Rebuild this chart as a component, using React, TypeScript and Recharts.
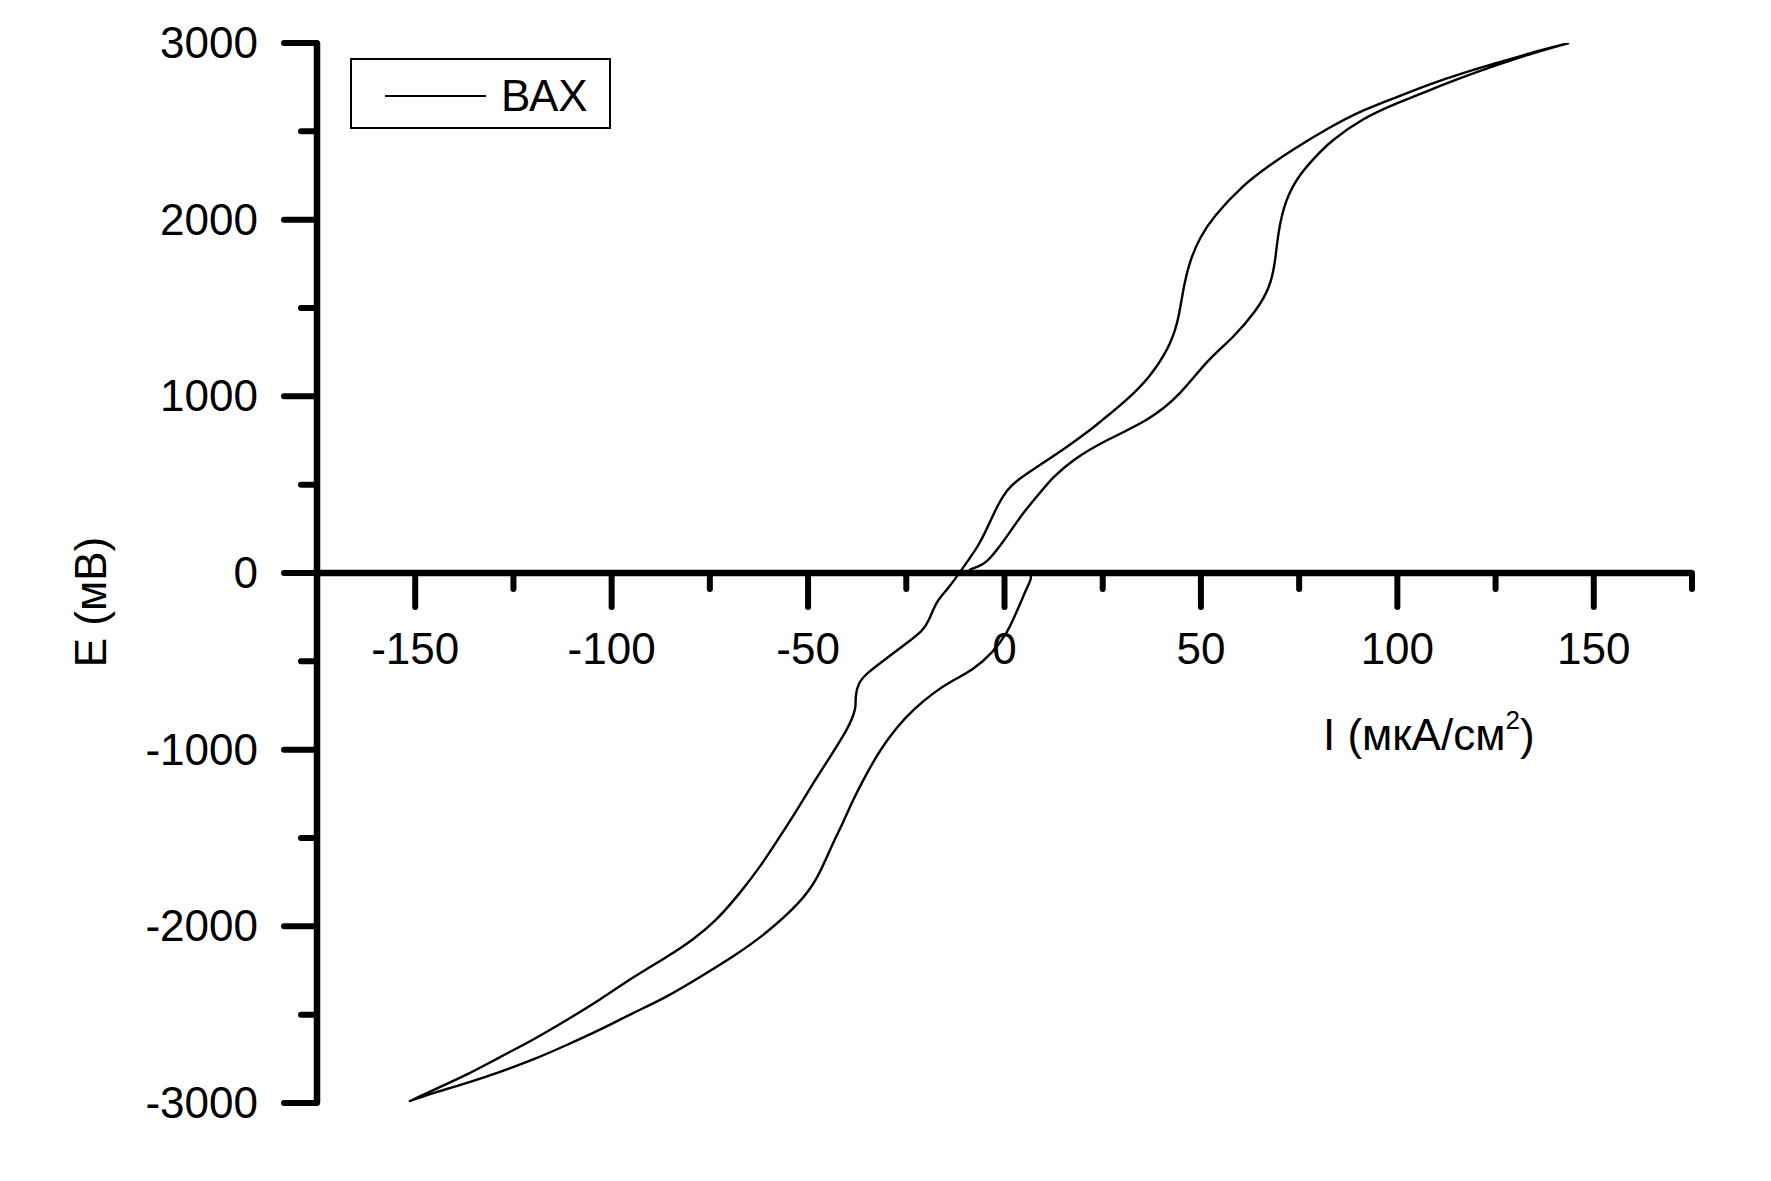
import { LineChart, Line, XAxis, YAxis, ReferenceLine, Legend } from "recharts";

// current (мкА/см2) and potential (мВ), sweep from +3000 down to -3000
const downI = [
  143.7, 133.7, 125.3, 116.7, 108.3, 99.9, 91.2, 82.8, 80.8, 75.2,
  71.4, 69.6, 68.9, 67.6, 64.3, 58.2, 51.6, 44.7, 37.0, 24.3,
  17.4, 12.3, 9.0, 4.7, 1.4, -1.9, -4.5, -6.7, -9.5, -8, 0, 5,
  7.3, 6.0, 4.7, 2.2, 0.6, -2.9, -8.0, -13.1, -18.2, -23.3, -27.4,
  -31.7, -35.0, -38.6, -41.1, -43.7, -47.7, -52.1, -60.5, -69.1, -77.5,
  -85.9, -94.6, -103.0, -111.4, -120.0, -128.4, -136.8, -145.4, -149.0, -152.6,
];
const downE = [
  3000, 2938, 2875, 2807, 2734, 2660, 2575, 2439, 2394, 2264,
  2111, 1924, 1755, 1619, 1489, 1330, 1206, 1007, 866, 736,
  640, 543, 453, 340, 232, 130, 62, 34, 17, 3, 2, 1,
  -11, -70, -136, -266, -340, -450, -549, -606, -679, -775, -872,
  -1002, -1132, -1285, -1415, -1528, -1738, -1868, -2038, -2173, -2287,
  -2400, -2490, -2587, -2672, -2756, -2824, -2887, -2943, -2970, -3000,
];

// sweep back from -3000 up to +3000
const upI = [
  -149.0, -145.4, -136.8, -128.4, -120.0, -111.4, -103.0, -94.6, -85.9, -79.3,
  -73.2, -67.3, -62.2, -57.1, -52.8, -48.7, -44.4, -40.1, -38.6, -37.8,
  -38.0, -37.3, -35.0, -29.9, -24.8, -20.7, -19.5, -17.2, -14.6, -11.3,
  -8.8, -6.2, -3.7, -1.7, 0.6, 3.2, 9.0, 15.9, 21.8, 24.3,
  31.2, 37.0, 41.6, 44.2, 45.4, 47.2, 49.8, 53.1, 60.7, 66.8, 73.2,
  82.8, 91.2, 99.9, 108.3, 116.7, 125.3, 133.7, 143.7,
];
const upE = [
  -2965, -2926, -2841, -2739, -2643, -2530, -2417, -2287, -2173, -2077,
  -1964, -1811, -1664, -1490, -1341, -1189, -1041, -889, -815, -758,
  -702, -623, -566, -481, -396, -323, -283, -153, -96, 6,
  85, 170, 289, 385, 470, 526, 611, 713, 809, 855,
  979, 1109, 1262, 1415, 1602, 1772, 1902, 2015, 2196, 2298, 2394,
  2524, 2621, 2694, 2768, 2830, 2887, 2943, 3000,
];

const xTicks = [-175, -150, -125, -100, -75, -50, -25, 0, 25, 50, 75, 100, 125, 150, 175];
const yTicks = [-3000, -2500, -2000, -1500, -1000, -500, 0, 500, 1000, 1500, 2000, 2500, 3000];

const data = [
  ...downI.map((i, k) => ({ i, e: downE[k] })),
  ...upI.map((i, k) => ({ i, e: upE[k] })),
];

const FONT = "Arial, 'Liberation Sans', sans-serif";
const W = 1763;
const H = 1173;
const PLOT_W = 1375;
const PLOT_H = 1060;
const margin = { top: 35, left: 109, right: W - 309 - PLOT_W, bottom: H - 35 - PLOT_H - 1 };
const AXIS_Y = margin.top + PLOT_H / 2;

const XTick = (props: any) => {
  const { x, payload } = props;
  const v = payload.value;
  const major = v % 50 === 0;
  return (
    <g>
      <line x1={x} x2={x} y1={AXIS_Y} y2={AXIS_Y + (major ? 34 : 16)} stroke="#000" strokeWidth={6} strokeLinecap="round" />
      {major && (
        <text x={x} y={AXIS_Y + 91} textAnchor="middle" fontSize={44} fontFamily={FONT} fill="#000">
          {v}
        </text>
      )}
    </g>
  );
};

const YTick = (props: any) => {
  const { x, y, payload } = props;
  const v = payload.value;
  const major = v % 1000 === 0;
  return (
    <g>
      <line x1={x - (major ? 33 : 16)} x2={x} y1={y} y2={y} stroke="#000" strokeWidth={6} strokeLinecap="round" />
      {major && (
        <text x={x - 59} y={y + 15} textAnchor="end" fontSize={44} fontFamily={FONT} fill="#000">
          {v}
        </text>
      )}
    </g>
  );
};

const renderLegend = (props: any) => {
  const name = props.payload?.[0]?.value ?? "ВАХ";
  return (
    <svg width={261} height={71} style={{ display: "block" }}>
      <rect x={1} y={1} width={259} height={69} fill="#fff" stroke="#000" strokeWidth={2} />
      <line x1={35} x2={136} y1={38} y2={38} stroke="#000" strokeWidth={2} />
      <text x={151} y={53} fontSize={44} fontFamily={FONT} fill="#000">
        {name}
      </text>
    </svg>
  );
};

export default function App() {
  return (
    <div style={{ position: "relative", width: W, height: H, background: "#fff" }}>
      <LineChart width={W} height={H} data={data} margin={margin}>
        <XAxis
          dataKey="i"
          type="number"
          domain={[-175, 175]}
          ticks={xTicks}
          interval={0}
          height={1}
          axisLine={false}
          tickLine={false}
          tickSize={0}
          tickMargin={0}
          tick={XTick}
          allowDataOverflow
        />
        <YAxis
          type="number"
          domain={[-3000, 3000]}
          ticks={yTicks}
          interval={0}
          width={200}
          axisLine={{ stroke: "#000", strokeWidth: 6.5 }}
          tickLine={false}
          tickSize={0}
          tickMargin={0}
          tick={YTick}
          allowDataOverflow
        />
        <ReferenceLine y={0} stroke="#000" strokeWidth={6.5} />
        <Legend
          layout="vertical"
          align="center"
          verticalAlign="middle"
          content={renderLegend}
          wrapperStyle={{ left: 342, top: 50, width: 261, height: 71 }}
        />
        <Line
          dataKey="e"
          name="ВАХ"
          type="basis"
          stroke="#000"
          strokeWidth={2.4}
          dot={false}
          activeDot={false}
          isAnimationActive={false}
        />
      </LineChart>
      <svg width={W} height={H} style={{ position: "absolute", left: 0, top: 0, pointerEvents: "none" }}>
        <text x={1315} y={742} fontSize={44} fontFamily={FONT} fill="#000">
          I (мкА/см<tspan dy={-21} fontSize={26}>2</tspan>
          <tspan dy={21}>)</tspan>
        </text>
        <text x={98} y={594} fontSize={44} fontFamily={FONT} fill="#000" textAnchor="middle" transform="rotate(-90 98 594)">
          E (мВ)
        </text>
      </svg>
    </div>
  );
}
